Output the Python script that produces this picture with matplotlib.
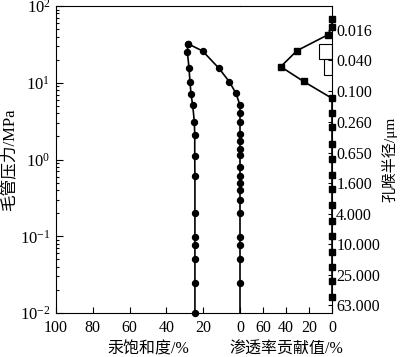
import matplotlib
matplotlib.use("Agg")
import matplotlib.pyplot as plt
from matplotlib.ticker import NullLocator, LogLocator, FixedLocator, NullFormatter

plt.rcParams['font.family'] = ['Liberation Serif', 'Noto Sans CJK SC']
plt.rcParams['mathtext.fontset'] = 'stix'

# mercury withdrawal curve (saturation %, pressure MPa)
out_sat = [28.4, 28.6, 27.7, 27.2, 26.6, 25.7, 24.8, 24.6, 24.6, 24.5, 24.5, 24.5, 24.5, 24.5, 24.5, 24.5]
out_p = [32.3, 25.4, 15.4, 10.3, 7.07, 5.08, 3.08, 2.09, 1.12, 0.604, 0.199, 0.0986, 0.0758, 0.0503, 0.0244, 0.0101]

# mercury injection curve
in_sat = [28.4, 20.3, 11.4, 5.8, 2.2, 0, 0, 0, 0, 0, 0, 0, 0, 0, 0, 0, 0, 0, 0, 0, 0, 0, 0]
in_p = [32.3, 25.9, 15.4, 10.3, 7.3, 5.08, 4.0, 3.08, 2.15, 1.72, 1.37, 1.13, 0.81, 0.61, 0.50, 0.404,
        0.293, 0.199, 0.0986, 0.0758, 0.0503, 0.0246, 0.01]

# permeability contribution (%, pressure MPa)
perm_val = [0, 0, 3.9, 30.4, 44.6, 24.7, 0, 0, 0, 0, 0, 0, 0, 0, 0, 0, 0, 0, 0, 0]
perm_p = [67.1, 52.8, 41.9, 26.2, 16.2, 10.4, 6.27, 4.0, 2.67, 1.59, 1.006, 0.628, 0.409, 0.255,
          0.160, 0.1016, 0.0629, 0.0394, 0.0264, 0.0160]

# histogram boxes
bar_val = [11.0, 7.0]
bar_top = [32.0, 20.2]
bar_bot = [20.2, 12.6]

# pore radius axis
radius = [0.016, 0.040, 0.100, 0.260, 0.650, 1.600, 4.000, 10.000, 25.000, 63.000]
radius_lbl = ['0.016', '0.040', '0.100', '0.260', '0.650', '1.600', '4.000', '10.000', '25.000', '63.000']
washburn_c = 0.79

fig = plt.figure(figsize=(4.0, 3.57), dpi=100)
ax2 = fig.add_axes([0.60, 0.1232, 0.23, 0.86])
ax1 = fig.add_axes([0.14, 0.1232, 0.46, 0.86])
ax1.patch.set_visible(False)
ax2.patch.set_visible(False)

lw = 0.8
for ax in (ax1, ax2):
    ax.set_yscale('log')
    ax.set_ylim(0.01, 100)
    for s in ax.spines.values():
        s.set_linewidth(lw)
ax1.spines['right'].set_visible(False)
ax2.spines['left'].set_visible(False)

ax1.plot(out_sat, out_p, '-o', color='black', lw=1.2, ms=4.3, clip_on=False)
ax1.plot(in_sat, in_p, '-o', color='black', lw=1.2, ms=4.3, clip_on=False,
         markevery=list(range(len(in_sat) - 1)))
ax1.set_xlim(100, 0)
ax1.set_xticks([100, 80, 60, 40, 20, 0])
ax1.tick_params(axis='x', direction='in', length=4, width=lw, labelsize=11.5, pad=5)
ax1.tick_params(axis='y', which='major', direction='in', length=5, width=lw, labelsize=12, pad=4)
ax1.tick_params(axis='y', which='minor', direction='in', length=2.5, width=lw)
ax1.yaxis.set_major_locator(LogLocator(base=10, numticks=10))
ax1.yaxis.set_minor_locator(LogLocator(base=10, subs=range(2, 10), numticks=10))
ax1.yaxis.set_minor_formatter(NullFormatter())
ax1.set_xlabel('汞饱和度/%', fontsize=11.5, labelpad=4)
ax1.set_ylabel('毛管压力/MPa', fontsize=12, labelpad=1)

ax2.barh(bar_bot, bar_val, height=[t - b for t, b in zip(bar_top, bar_bot)], left=0,
         align='edge', fill=False, edgecolor='black', lw=0.8)
ax2.plot(perm_val, perm_p, '-s', color='black', lw=1.2, ms=3.8, clip_on=False)
ax2.set_xlim(80, 0)
ax2.set_xticks([60, 40, 20, 0])
ax2.tick_params(axis='x', direction='in', length=4, width=lw, labelsize=11.5, pad=5)
ax2.yaxis.tick_right()
ax2.yaxis.set_label_position('right')
ax2.yaxis.set_major_locator(FixedLocator([washburn_c / r for r in radius]))
ax2.yaxis.set_minor_locator(NullLocator())
ax2.set_yticklabels(radius_lbl)
ax2.tick_params(axis='y', which='major', direction='in', length=3, width=lw, labelsize=11.5, pad=3)
ax2.set_xlabel('渗透率贡献值/%', fontsize=11.5, labelpad=4)
ax2.set_ylabel('孔喉半径/μm', fontsize=11, labelpad=1)

fig.savefig('out.png', dpi=100)
